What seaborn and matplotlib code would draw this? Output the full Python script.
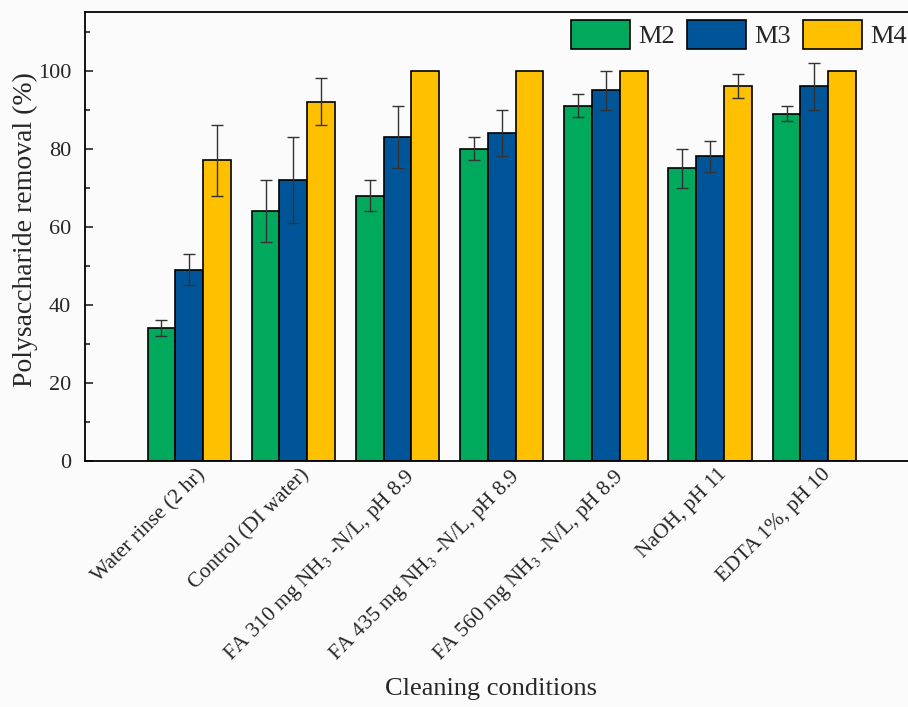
import numpy as np
import pandas as pd
import matplotlib
matplotlib.use("Agg")
import matplotlib.pyplot as plt
import matplotlib.transforms as mtrans
import seaborn as sb
from matplotlib.ticker import MultipleLocator

conditions = ["Water rinse (2 hr)", "Control (DI water)",
              "FA 310 mg NH$_3$ -N/L, pH 8.9", "FA 435 mg NH$_3$ -N/L, pH 8.9",
              "FA 560 mg NH$_3$ -N/L, pH 8.9", "NaOH, pH 11", "EDTA 1%, pH 10"]
membranes = ["M2", "M3", "M4"]

m2_mean = [34, 64, 68, 80, 91, 75, 89]
m3_mean = [49, 72, 83, 84, 95, 78, 96]
m4_mean = [77, 92, 100, 100, 100, 96, 100]

m2_err = [2, 8, 4, 3, 3, 5, 2]
m3_err = [4, 11, 8, 6, 5, 4, 6]
m4_err = [9, 6, 0, 0, 0, 3, 0]

colors = ["#00A95C", "#005598", "#FFC000"]

sb.set_style("ticks")
plt.rcParams['font.family'] = ['Liberation Serif', 'DejaVu Serif']
plt.rcParams['mathtext.fontset'] = 'stix'

df = pd.DataFrame({
    "Condition": conditions * 3,
    "Membrane": np.repeat(membranes, len(conditions)),
    "Removal": m2_mean + m3_mean + m4_mean,
})
errs = [m2_err, m3_err, m4_err]
means = [m2_mean, m3_mean, m4_mean]

fig = plt.figure(figsize=(9.08, 7.07), dpi=100, facecolor="#fbfbfb")
ax = fig.add_axes([0.0936, 0.348, 0.918, 0.635])
ax.set_facecolor("#fbfbfb")

sb.barplot(data=df, x="Condition", y="Removal", hue="Membrane", palette=colors,
           width=0.8, edgecolor="black", linewidth=1.2, errorbar=None, ax=ax, saturation=1)

# error bars on top of the seaborn bars
for cont, m, e in zip(ax.containers, means, errs):
    xs = [p.get_x() + p.get_width() / 2 for p in cont.patches]
    mask = [v > 0 for v in e]
    ax.errorbar(np.array(xs)[mask], np.array(m)[mask], yerr=np.array(e)[mask], fmt="none",
                ecolor="#333333", elinewidth=1.0, capsize=4.5, capthick=1.0, zorder=5)

ax.set_xlim(-1, 7)
ax.set_ylim(0, 115)
ax.yaxis.set_major_locator(MultipleLocator(20))
ax.yaxis.set_minor_locator(MultipleLocator(10))
ax.tick_params(axis="y", which="major", direction="in", length=6, width=1.2, labelsize=16, pad=10)
ax.tick_params(axis="y", which="minor", direction="in", length=3.5, width=1.2)
ax.tick_params(axis="x", length=0, labelsize=15.5, pad=3)
shift = mtrans.ScaledTranslation(7 / 100, 0, fig.dpi_scale_trans)
for lab in ax.get_xticklabels():
    lab.set_rotation(45)
    lab.set_ha("right")
    lab.set_rotation_mode("anchor")
    lab.set_transform(lab.get_transform() + shift)

for s in ["left", "bottom", "top"]:
    ax.spines[s].set_linewidth(1.3)
    ax.spines[s].set_color("black")
ax.spines["right"].set_visible(False)

ax.set_ylabel("Polysaccharide removal (%)", fontsize=20)
ax.yaxis.set_label_coords(-(85 - 38) / (0.918 * 908), (461 - 230) / (0.635 * 707))
ax.set_xlabel("Cleaning conditions", fontsize=19)
ax.xaxis.set_label_coords((491 - 85) / (0.918 * 908), -(678 - 461) / (0.635 * 707))

ax.legend(loc="upper right", bbox_to_anchor=(1.013, 0.99), bbox_transform=fig.transFigure,
          ncol=3, frameon=False, fontsize=19, handlelength=2.25, handleheight=1.3,
          handletextpad=0.3, columnspacing=0.45, borderaxespad=0.1)

fig.savefig("out.png", dpi=100, facecolor=fig.get_facecolor())
